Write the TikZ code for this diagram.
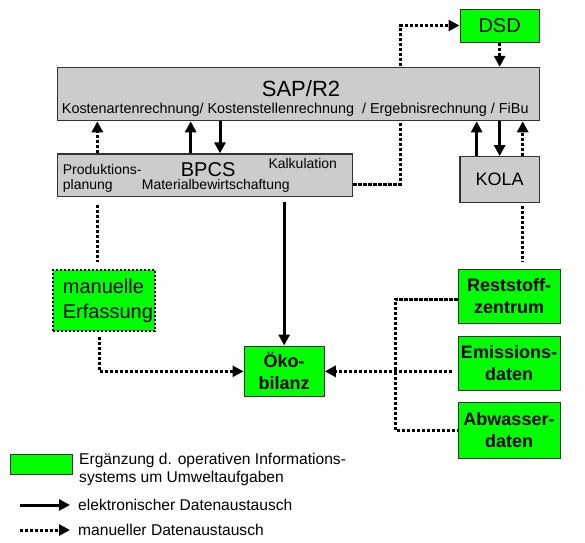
\documentclass[tikz,border=0pt]{standalone}
\usepackage{fontspec}
\setmainfont{Liberation Sans}
\usetikzlibrary{arrows.meta,positioning}
\definecolor{sapgray}{RGB}{204,204,204}
\definecolor{umweltgreen}{RGB}{0,255,0}

\begin{document}
\begin{tikzpicture}[x=1pt, y=-1pt,
    sysbox/.style={rectangle, draw=black!80, line width=1.2pt, fill=sapgray, inner sep=0pt},
    umbox/.style={rectangle, draw=black!80, line width=1pt, fill=umweltgreen, inner sep=0pt, align=center, font=\fontsize{18}{22}\selectfont\bfseries},
    smalltxt/.style={inner sep=0pt, font=\fontsize{14}{16}\selectfont},
    legtxt/.style={inner sep=0pt, font=\fontsize{15.6}{17.7}\selectfont},
    edata/.style={line width=3pt, -{Triangle[length=11pt,width=11pt]}},
    mdata/.style={line width=3pt, dash pattern=on 3.2pt off 1.8pt},
    mtip/.style={-{Triangle[length=11pt,width=11pt]}}
]
    \useasboundingbox (0,0) rectangle (585,542);

    % x positions of the vertical links
    \coordinate (xa) at (97.3,0);
    \coordinate (xb) at (190.7,0);
    \coordinate (xc) at (220,0);
    \coordinate (xd) at (400.7,0);
    \coordinate (xr) at (395.5,0);
    \coordinate (xk1) at (476.7,0);
    \coordinate (xk3) at (522.7,0);

    % operative systems
    \node[sysbox, minimum width=295.4pt, minimum height=42.7pt] (bpcs) at (205,175.3) {};
    \node[umbox, font=\fontsize{20}{24}\selectfont, minimum width=79.3pt, minimum height=33pt] (dsd) at (499.65,25.5) {DSD};

    % BPCS -> DSD runs behind SAP
    \draw[mdata, mtip] ([yshift=-8.7pt]bpcs.east) -| (xd |- dsd.west) -- (dsd.west);

    \node[sysbox, minimum width=482pt, minimum height=53.2pt] (sap) at (298.3,94.1) {};
    \node[sysbox, font=\fontsize{18}{22}\selectfont, minimum width=79.3pt, minimum height=46pt] (kola) at (499.65,179.7) {KOLA};

    \node[anchor=base, inner sep=0pt, font=\fontsize{22}{26}\selectfont] (saptitle) at (301,96) {SAP/R2};
    \node[anchor=base west, inner sep=0pt, font=\fontsize{14.4}{17}\selectfont] (sapsub) at (61.7,113.3) {Kostenartenrechnung/ Kostenstellenrechnung\ \ / Ergebnisrechnung / FiBu};

    \node[smalltxt, anchor=base west] (prod) at (62.7,174) {Produktions-};
    \node[smalltxt, anchor=base west] (plan) at (62.7,189.3) {planung};
    \node[anchor=base west, inner sep=0pt, font=\fontsize{20}{24}\selectfont] (bpcstitle) at (180.7,176) {BPCS};
    \node[smalltxt, anchor=base west] (kalk) at (268.3,168.3) {Kalkulation};
    \node[smalltxt, anchor=base west] (mat) at (141.7,189) {Materialbewirtschaftung};

    % environmental extensions
    \node[umbox, draw=black, line width=2pt, dash pattern=on 2.5pt off 1.5pt, font=\fontsize{20}{25}\selectfont, align=left, text width=82pt, minimum width=102.3pt, minimum height=60.7pt] (manu) at (103.85,300.35) {manuelle\\Erfassung};
    \node[umbox, minimum width=80.3pt, minimum height=50.7pt] (oko) at (284.15,371.35) {Öko-\\bilanz};
    \node[umbox, minimum width=102pt, minimum height=54.3pt] (rest) at (509,296.15) {Reststoff-\\zentrum};
    \node[umbox, minimum width=102pt, minimum height=54.7pt] (emis) at (509,363.35) {Emissions-\\daten};
    \node[umbox, minimum width=102pt, minimum height=55.6pt] (abw) at (509,430.5) {Abwasser-\\daten};

    % SAP <-> BPCS
    \draw[mdata, mtip] (xa |- bpcs.north) -- (xa |- sap.south);
    \draw[edata] (xb |- bpcs.north) -- (xb |- sap.south);
    \draw[edata] (xc |- sap.south) -- (xc |- bpcs.north);
    \draw[mdata, shorten <=8pt, shorten >=7pt] (xa |- bpcs.south) -- (xa |- manu.north);

    % DSD and KOLA
    \draw[mdata, mtip] (dsd.south) -- (dsd.south |- sap.north);
    \draw[edata] (xk1 |- kola.north) -- (xk1 |- sap.south);
    \draw[edata] (kola.north |- sap.south) -- (kola.north);
    \draw[mdata, mtip] (xk3 |- kola.north) -- (xk3 |- sap.south);
    \draw[mdata, shorten <=2.3pt, shorten >=7pt] (xk3 |- kola.south) -- (xk3 |- rest.north);

    % into Oekobilanz
    \draw[edata, shorten <=5pt] (oko.north |- bpcs.south) -- (oko.north);
    \draw[mdata, mtip, shorten <=5pt] ([xshift=-4.5pt]manu.south) |- (oko.west);
    \draw[mdata] ([yshift=-3pt]rest.west) -| (xr |- abw.west) -- (abw.west);
    \draw[mdata, mtip, shorten <=5.6pt] (emis.west |- oko.east) -- (oko.east);

    % legend
    \node[umbox, minimum width=62.7pt, minimum height=20pt] (legbox) at (41.35,464) {};
    \node[legtxt, anchor=west, align=left] (legtext) at (79,469.8) {Ergänzung d. operativen Informations-\\systems um Umweltaufgaben};
    \coordinate (le) at (20,505);
    \coordinate (lm) at (20,530);
    \node[legtxt, anchor=base west] (legel) at (78,510) {elektronischer Datenaustausch};
    \node[legtxt, anchor=base west] (legma) at (78,535) {manueller Datenaustausch};
    \draw[edata, shorten >=8pt] (le) -- (le -| legel.west);
    \draw[mdata, mtip, shorten >=8pt] (lm) -- (lm -| legma.west);
\end{tikzpicture}
\end{document}
